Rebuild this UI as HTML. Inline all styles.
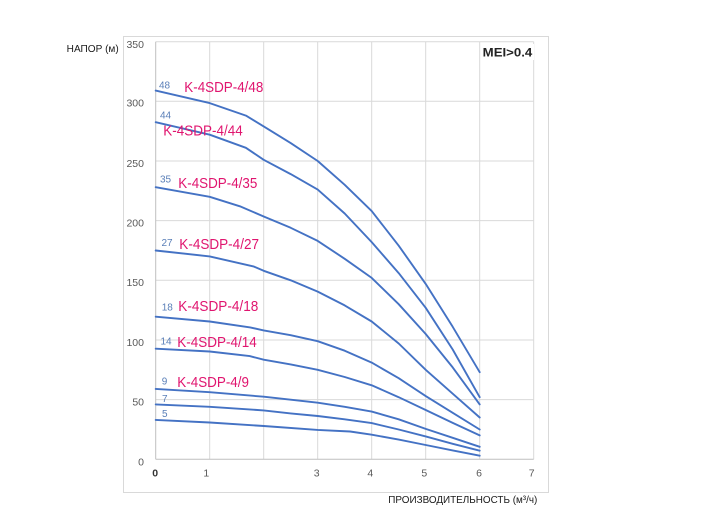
<!DOCTYPE html>
<html>
<head>
<meta charset="utf-8">
<style>
  html, body { margin:0; padding:0; background:#ffffff; }
  body { width:704px; height:528px; overflow:hidden; }
  svg { display:block; }
  text { font-family: "Liberation Sans", "DejaVu Sans", sans-serif; }
</style>
</head>
<body>
<svg width="704" height="528" viewBox="0 0 704 528" xmlns="http://www.w3.org/2000/svg">
  <rect x="0" y="0" width="704" height="528" fill="#ffffff"/>
  <!-- outer chart frame -->
  <rect x="123.5" y="36.5" width="425" height="456" fill="none" stroke="#d9d9d9" stroke-width="1"/>

  <!-- horizontal gridlines -->
  <g stroke="#d9d9d9" stroke-width="1">
    <line x1="155.7" y1="399.6" x2="533.7" y2="399.6"/>
    <line x1="155.7" y1="340.0" x2="533.7" y2="340.0"/>
    <line x1="155.7" y1="280.3" x2="533.7" y2="280.3"/>
    <line x1="155.7" y1="220.6" x2="533.7" y2="220.6"/>
    <line x1="155.7" y1="161.0" x2="533.7" y2="161.0"/>
    <line x1="155.7" y1="101.3" x2="533.7" y2="101.3"/>
    <line x1="155.7" y1="41.7" x2="533.7" y2="41.7"/>
    <!-- vertical gridlines -->
    <line x1="209.7" y1="41.7" x2="209.7" y2="459.3"/>
    <line x1="263.7" y1="41.7" x2="263.7" y2="459.3"/>
    <line x1="317.7" y1="41.7" x2="317.7" y2="459.3"/>
    <line x1="371.7" y1="41.7" x2="371.7" y2="459.3"/>
    <line x1="425.7" y1="41.7" x2="425.7" y2="459.3"/>
    <line x1="479.7" y1="41.7" x2="479.7" y2="459.3"/>
    <line x1="533.7" y1="41.7" x2="533.7" y2="459.3"/>
  </g>
  <!-- axes -->
  <g stroke="#bfbfbf" stroke-width="1">
    <line x1="155.7" y1="41.7" x2="155.7" y2="459.3"/>
    <line x1="155.7" y1="459.3" x2="533.7" y2="459.3"/>
  </g>

  <!-- MEI label with white backing -->
  <rect x="481" y="44" width="53" height="16" fill="#ffffff"/>
  <text x="482.7" y="56.7" font-size="12" font-weight="bold" fill="#222222" textLength="49.6" lengthAdjust="spacingAndGlyphs">MEI&gt;0.4</text>

  <!-- curves -->
  <g fill="none" stroke="#4472c4" stroke-width="1.9" stroke-linejoin="round" stroke-linecap="round">
    <!-- 48 -->
    <polyline points="155.7,90.6 209.7,103.1 245.9,115.6 263.7,126.4 290.7,143.1 317.7,161.0 344.7,184.8 371.7,211.1 398.7,245.7 425.7,283.9 452.7,326.8 479.7,372.2"/>
    <!-- 44 -->
    <polyline points="155.7,122.2 209.7,134.7 245.9,147.8 263.7,159.8 290.7,174.1 317.7,189.6 344.7,213.5 371.7,242.1 398.7,273.1 425.7,307.8 452.7,349.5 479.7,397.2"/>
    <!-- 35 -->
    <polyline points="155.7,187.2 209.7,196.8 239.9,206.3 263.7,216.5 290.7,227.8 317.7,240.9 344.7,258.8 371.7,277.9 398.7,304.2 425.7,334.0 452.7,367.4 479.7,404.4"/>
    <!-- 27 -->
    <polyline points="155.7,250.5 209.7,256.4 254.0,266.6 263.7,270.8 290.7,280.3 317.7,291.6 344.7,305.4 371.7,321.5 398.7,343.5 425.7,369.8 452.7,393.7 479.7,417.5"/>
    <!-- 18 -->
    <polyline points="155.7,316.7 209.7,321.5 250.2,327.4 263.7,330.4 290.7,335.2 317.7,341.2 344.7,350.7 371.7,362.6 398.7,378.2 425.7,396.1 452.7,412.8 479.7,429.5"/>
    <!-- 14 -->
    <polyline points="155.7,348.7 209.7,351.5 249.7,356.1 263.7,359.7 290.7,364.4 317.7,369.8 344.7,377.0 371.7,385.3 398.7,397.2 425.7,410.0 452.7,422.9 479.7,435.4"/>
    <!-- 9 -->
    <polyline points="155.7,388.9 209.7,392.2 263.7,396.7 317.7,402.7 344.7,406.8 371.7,411.6 398.7,419.3 425.7,428.9 452.7,437.8 479.7,446.8"/>
    <!-- 7 -->
    <polyline points="155.7,404.4 209.7,406.8 263.7,410.4 290.7,413.4 317.7,416.0 344.7,419.3 371.7,423.1 398.7,429.5 425.7,436.4 452.7,443.8 479.7,450.7"/>
    <!-- 5 -->
    <polyline points="155.7,419.9 209.7,422.5 263.7,426.0 317.7,429.9 350.1,431.5 371.7,434.7 398.7,439.6 425.7,445.0 452.7,450.4 479.7,455.7"/>
  </g>

  <!-- curve number labels -->
  <g font-size="10" fill="#5a7fb8">
    <text x="159" y="88.3">48</text>
    <text x="160" y="118.6">44</text>
    <text x="160" y="182.6">35</text>
    <text x="161.5" y="245.9">27</text>
    <text x="161.7" y="310.3">18</text>
    <text x="160.5" y="344.6">14</text>
    <text x="161.7" y="384.3">9</text>
    <text x="162" y="401.9">7</text>
    <text x="162" y="416.9">5</text>
  </g>

  <!-- model labels -->
  <g font-size="15" fill="#e0156f">
    <text x="184.3" y="92.2" textLength="79" lengthAdjust="spacingAndGlyphs">K-4SDP-4/48</text>
    <text x="163.3" y="135.5" textLength="79.4" lengthAdjust="spacingAndGlyphs">K-4SDP-4/44</text>
    <text x="178.3" y="188.2" textLength="79" lengthAdjust="spacingAndGlyphs">K-4SDP-4/35</text>
    <text x="179.3" y="248.8" textLength="79.7" lengthAdjust="spacingAndGlyphs">K-4SDP-4/27</text>
    <text x="178.3" y="311.2" textLength="80" lengthAdjust="spacingAndGlyphs">K-4SDP-4/18</text>
    <text x="177.3" y="347.2" textLength="79.4" lengthAdjust="spacingAndGlyphs">K-4SDP-4/14</text>
    <text x="177.3" y="387.2" textLength="71.7" lengthAdjust="spacingAndGlyphs">K-4SDP-4/9</text>
  </g>

  <!-- y axis tick labels -->
  <g font-size="10.5" fill="#595959" text-anchor="end">
    <text x="144" y="47.8">350</text>
    <text x="144" y="106.5">300</text>
    <text x="144" y="167">250</text>
    <text x="144" y="226.5">200</text>
    <text x="144" y="286">150</text>
    <text x="144" y="346">100</text>
    <text x="144" y="405.5">50</text>
    <text x="144" y="465.5">0</text>
  </g>

  <!-- x axis tick labels -->
  <g font-size="10.5" fill="#595959" text-anchor="middle">
    <text x="155.2" y="476.5" fill="#333333" font-weight="bold">0</text>
    <text x="206.3" y="476.5">1</text>
    <text x="316.7" y="476.5">3</text>
    <text x="370.3" y="476.5">4</text>
    <text x="424.3" y="476.5">5</text>
    <text x="479" y="476.5">6</text>
    <text x="531.7" y="476.5">7</text>
  </g>

  <!-- axis titles -->
  <text x="66.7" y="52" font-size="10" fill="#1a1a1a" textLength="52" lengthAdjust="spacingAndGlyphs">НАПОР (м)</text>
  <text x="388.3" y="503" font-size="10" fill="#1a1a1a" textLength="149" lengthAdjust="spacingAndGlyphs">ПРОИЗВОДИТЕЛЬНОСТЬ (м³/ч)</text>
</svg>
</body>
</html>
